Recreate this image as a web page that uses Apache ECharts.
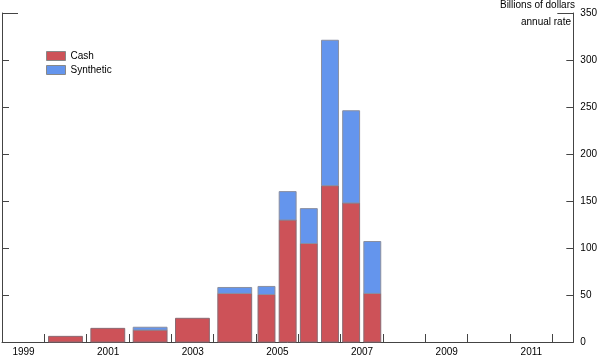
<!DOCTYPE html>
<html>
<head>
<meta charset="utf-8">
<script src="https://cdn.jsdelivr.net/npm/echarts@6/dist/echarts.min.js"></script>
<style>html,body{margin:0;padding:0;background:#fff}#c{width:600px;height:357px}</style>
</head>
<body>
<div id="c"></div>
<script>
// Periods: annual through 2004, then half-years
var periods = ['2000', '2001', '2002', '2003', '2004',
  '2005 H1', '2005 H2', '2006 H1', '2006 H2', '2007 H1', '2007 H2'];
var cash      = [6, 14.5, 12.7, 25.2, 51.7, 50.6, 129.8, 104.8, 166.3, 147.9, 51.7];
var synthetic = [0, 0, 3, 0, 6.3, 8.5, 30.2, 37.1, 154.7, 98.1, 55.2];
var yTicks = [0, 50, 100, 150, 200, 250, 300, 350];
var xYearLabels = ['1999', '2001', '2003', '2005', '2007', '2009', '2011'];

function periodSpan(p) {
  var parts = p.split(' ');
  var y = +parts[0];
  if (parts.length === 1) return [y, y + 1];
  return parts[1] === 'H1' ? [y, y + 0.5] : [y + 0.5, y + 1];
}

function buildData(vals, bases) {
  return periods.map(function (p, i) {
    var s = periodSpan(p);
    var b = bases ? bases[i] : 0;
    return [s[0], s[1], b, b + vals[i]];
  });
}

var FONT = '"Liberation Sans", Arial, sans-serif';
var FS = 10;
var FILL = 0.8;

function makeRender(fill, stroke) {
  return function (params, api) {
    var x0 = api.value(0), x1 = api.value(1), b = api.value(2), t = api.value(3);
    if (t - b <= 0) return null;
    var pad = (x1 - x0) * (1 - FILL) / 2;
    var p0 = api.coord([x0 + pad, t]);
    var p1 = api.coord([x1 - pad, b]);
    return {
      type: 'rect',
      shape: { x: p0[0], y: p0[1], width: p1[0] - p0[0], height: p1[1] - p0[1] },
      style: { fill: fill, stroke: stroke, lineWidth: 1 }
    };
  };
}

var chart = echarts.init(document.getElementById('c'), null, { renderer: 'canvas' });
var cashColor = '#cd5258', synColor = '#6495ed';

var baseY = {
  type: 'value', min: yTicks[0], max: yTicks[yTicks.length - 1], interval: 50,
  splitLine: { show: false }
};

chart.setOption({
  animation: false,
  backgroundColor: '#fff',
  title: [
    { text: 'Billions of dollars', right: 25, top: 0, padding: 0,
      textStyle: { fontFamily: FONT, fontSize: FS, fontWeight: 'normal', color: '#000' } },
    { text: 'annual rate', right: 29, top: 17, padding: 0,
      textStyle: { fontFamily: FONT, fontSize: FS, fontWeight: 'normal', color: '#000' } }
  ],
  legend: {
    left: 46, top: 51, orient: 'vertical', itemWidth: 19, itemHeight: 9, itemGap: 4,
    icon: 'rect', padding: 0,
    data: [
      { name: 'Cash', itemStyle: { color: cashColor, borderColor: '#888', borderWidth: 1 } },
      { name: 'Synthetic', itemStyle: { color: synColor, borderColor: '#888', borderWidth: 1 } }
    ],
    textStyle: { fontFamily: FONT, fontSize: FS, color: '#000' }
  },
  grid: { left: 2, right: 24, top: 13, bottom: 14, containLabel: false },
  xAxis: {
    type: 'value', min: 1999, max: 2012.5, interval: 1,
    splitLine: { show: false },
    axisLine: { show: true, lineStyle: { color: '#444', width: 1 } },
    axisTick: { show: true, inside: true, length: 8, lineStyle: { color: '#444' } },
    axisLabel: {
      show: true, margin: 5,
      fontFamily: FONT, fontSize: FS, color: '#000',
      padding: [0, 0, 0, 43],
      showMaxLabel: false,
      formatter: function (v) {
        var s = String(v);
        return xYearLabels.indexOf(s) >= 0 ? s : '';
      }
    }
  },
  yAxis: [
    Object.assign({}, baseY, {
      position: 'right',
      axisLine: { show: true, lineStyle: { color: '#444', width: 1 } },
      axisTick: { show: true, inside: true, length: 7, lineStyle: { color: '#444' } },
      axisLabel: { show: true, margin: 7, fontFamily: FONT, fontSize: FS, color: '#000' }
    }),
    Object.assign({}, baseY, {
      position: 'left',
      axisLine: { show: true, lineStyle: { color: '#444', width: 1 } },
      axisTick: { show: true, inside: true, length: 7, lineStyle: { color: '#444' } },
      axisLabel: { show: false }
    }),
    Object.assign({}, baseY, {
      position: 'right', interval: 350,
      axisLine: { show: false },
      axisTick: { show: true, inside: true, length: 16, lineStyle: { color: '#444' } },
      axisLabel: { show: false }
    }),
    Object.assign({}, baseY, {
      position: 'left', interval: 350,
      axisLine: { show: false },
      axisTick: { show: true, inside: true, length: 16, lineStyle: { color: '#444' } },
      axisLabel: { show: false }
    })
  ],
  series: [
    {
      name: 'Cash', type: 'custom', xAxisIndex: 0, yAxisIndex: 0,
      itemStyle: { color: cashColor },
      renderItem: makeRender(cashColor, '#8a6a72'),
      encode: { x: [0, 1], y: [2, 3] },
      data: buildData(cash, null)
    },
    {
      name: 'Synthetic', type: 'custom', xAxisIndex: 0, yAxisIndex: 0,
      itemStyle: { color: synColor },
      renderItem: makeRender(synColor, '#8a8fa0'),
      encode: { x: [0, 1], y: [2, 3] },
      data: buildData(synthetic, cash)
    }
  ]
});
</script>
</body>
</html>
